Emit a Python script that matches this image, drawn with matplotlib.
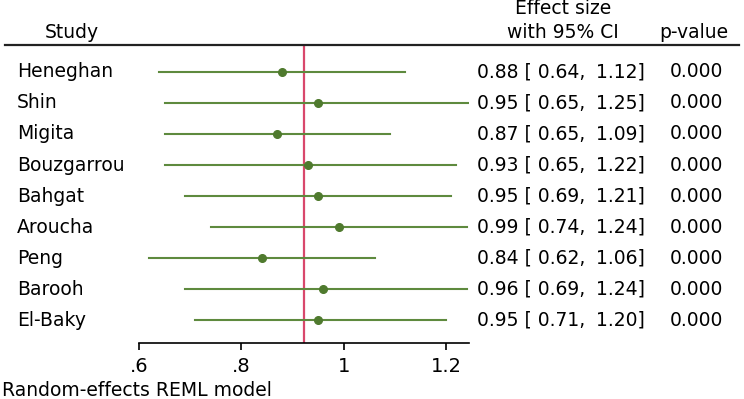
import matplotlib
matplotlib.use("Agg")
import matplotlib.pyplot as plt
from matplotlib.lines import Line2D

studies = ["Heneghan", "Shin", "Migita", "Bouzgarrou", "Bahgat",
           "Aroucha", "Peng", "Barooh", "El-Baky"]
effect = [0.88, 0.95, 0.87, 0.93, 0.95, 0.99, 0.84, 0.96, 0.95]
ci_low = [0.64, 0.65, 0.65, 0.65, 0.69, 0.74, 0.62, 0.69, 0.71]
ci_high = [1.12, 1.25, 1.09, 1.22, 1.21, 1.24, 1.06, 1.24, 1.20]
p_values = ["0.000"] * 9
overall = 0.922
xticks = [0.6, 0.8, 1.0, 1.2]
xtick_labels = [".6", ".8", "1", "1.2"]


def forest():
    plt.rcParams["font.family"] = ["DejaVu Sans"]
    W, H = 744, 399
    fig = plt.figure(figsize=(W / 100, H / 100), dpi=100)

    # plot area in pixels: x 139..469, y 45..343 (from top)
    ax = fig.add_axes([139 / W, (H - 343) / H, 330 / W, (343 - 45) / H])
    green = "#5e8a3e"
    rows = list(range(1, len(studies) + 1))

    ax.axvline(overall, color="#d9486c", lw=1.6, zorder=1)
    for y, e, lo, hi in zip(rows, effect, ci_low, ci_high):
        ax.plot([lo, hi], [y, y], color=green, lw=1.5, zorder=2)
        ax.plot(e, y, "o", color="#4f7a2e", ms=5.5, zorder=3)

    ax.set_xlim(0.6, 1.2445)
    ax.set_ylim(9.74, 0.13)
    for s in ["top", "right", "left"]:
        ax.spines[s].set_visible(False)
    ax.spines["bottom"].set_linewidth(1.2)
    ax.set_yticks([])
    ax.set_xticks(xticks)
    ax.set_xticklabels(xtick_labels, fontsize=14)
    ax.tick_params(axis="x", length=5, width=1.2, pad=5)

    fs = 13.5
    tr = ax.get_yaxis_transform()
    for y, name, e, lo, hi, p in zip(rows, studies, effect, ci_low,
                                     ci_high, p_values):
        ax.text(-122 / 330, y, name, transform=tr, fontsize=fs,
                ha="left", va="center")
        ax.text(338 / 330, y, f"{e:.2f} [ {lo:.2f},", transform=tr,
                fontsize=fs, ha="left", va="center")
        ax.text(506 / 330, y, f"{hi:.2f}]", transform=tr,
                fontsize=fs, ha="right", va="center")
        ax.text(584 / 330, y, p, transform=tr, fontsize=fs,
                ha="right", va="center")

    # header
    fig.text(72 / W, 1 - 33 / H, "Study", fontsize=fs, ha="center",
             va="center")
    fig.text(563 / W, 1 - 9 / H, "Effect size", fontsize=fs,
             ha="center", va="center")
    fig.text(563 / W, 1 - 33 / H, "with 95% CI", fontsize=fs,
             ha="center", va="center")
    fig.text(694 / W, 1 - 33 / H, "p-value", fontsize=fs, ha="center",
             va="center")
    fig.add_artist(Line2D([5 / W, 739 / W], [1 - 45 / H, 1 - 45 / H],
                          color="#222222", lw=1.6))

    fig.text(2 / W, 1 - 390 / H, "Random-effects REML model",
             fontsize=fs, ha="left", va="center")

    fig.savefig("out.png", dpi=100)


if __name__ == '__main__':
    forest()
